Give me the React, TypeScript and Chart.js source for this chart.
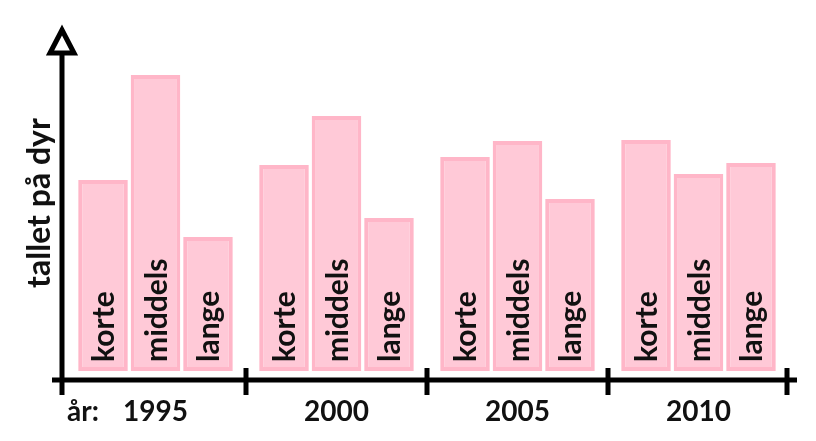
import { useEffect, useRef } from "react"
import Chart from "chart.js/auto"

const years = ["1995", "2000", "2005", "2010"]
const lengthNames = ["korte", "middels", "lange"]
const korte = [191, 206, 214, 231]
const middels = [296, 255, 230, 197]
const lange = [134, 153, 172, 208]
const yMax = 300

const FONT = "Lato, 'Open Sans', sans-serif"

// draws axes, arrow, ticks, year labels and the words inside the bars
const drawingPlugin = {
  id: "axesAndLabels",
  afterDatasetsDraw(chart: any) {
    const { ctx, chartArea } = chart
    const x = chart.scales.x
    const { bottom } = chartArea
    const axisX = chartArea.left - 3
    const axisY = bottom + 9
    const step = x.getPixelForValue(1) - x.getPixelForValue(0)

    ctx.save()
    ctx.strokeStyle = "#000"
    ctx.lineWidth = 5
    ctx.lineCap = "butt"

    // y axis
    ctx.beginPath()
    ctx.moveTo(axisX, axisY + 15)
    ctx.lineTo(axisX, 54)
    ctx.stroke()

    // arrow head
    ctx.beginPath()
    ctx.moveTo(axisX, 30)
    ctx.lineTo(axisX + 12, 53)
    ctx.lineTo(axisX - 12, 53)
    ctx.closePath()
    ctx.fillStyle = "#fff"
    ctx.fill()
    ctx.lineJoin = "miter"
    ctx.stroke()

    // x axis
    ctx.beginPath()
    ctx.moveTo(axisX - 10, axisY)
    ctx.lineTo(x.getPixelForValue(years.length - 1) + step / 2 + 8, axisY)
    ctx.stroke()

    // ticks between the years
    for (let i = 0; i < years.length; i++) {
      const tx = x.getPixelForValue(i) + step / 2 - (i === years.length - 1 ? 2 : 0)
      ctx.beginPath()
      ctx.moveTo(tx, axisY - 12)
      ctx.lineTo(tx, axisY + 15)
      ctx.stroke()
    }

    // year labels
    ctx.fillStyle = "#111"
    ctx.font = `bold 28px ${FONT}`
    ctx.textAlign = "center"
    ctx.textBaseline = "alphabetic"
    years.forEach((yr, i) => {
      ctx.fillText(yr, x.getPixelForValue(i), axisY + 41)
    })
    ctx.textAlign = "left"
    ctx.fillText("år:", axisX + 5, axisY + 41)

    // y axis title
    ctx.save()
    ctx.translate(axisX - 12, 203)
    ctx.rotate(-Math.PI / 2)
    ctx.textAlign = "center"
    ctx.font = `bold 32px ${FONT}`
    ctx.fillText("tallet på dyr", 0, 0)
    ctx.restore()

    // words inside bars
    ctx.font = `bold 30px ${FONT}`
    chart.data.datasets.forEach((ds: any, di: number) => {
      const meta = chart.getDatasetMeta(di)
      meta.data.forEach((bar: any) => {
        ctx.save()
        ctx.translate(bar.x + 11, bottom - 9)
        ctx.rotate(-Math.PI / 2)
        ctx.textAlign = "left"
        ctx.fillText(ds.label, 0, 0)
        ctx.restore()
      })
    })

    ctx.restore()
  },
}

export default function App() {
  const chartRef = useRef<HTMLCanvasElement>(null)
  const chartInstance = useRef<Chart | null>(null)

  useEffect(() => {
    if (!chartRef.current) return
    if (chartInstance.current) chartInstance.current.destroy()
    const ctx = chartRef.current.getContext("2d")
    if (!ctx) return

    const series = [korte, middels, lange]

    chartInstance.current = new Chart(ctx, {
      type: "bar",
      data: {
        labels: years,
        datasets: lengthNames.map((name, i) => ({
          label: name,
          data: series[i],
          backgroundColor: "#ffc9d7",
          borderColor: "#ffb6c8",
          borderWidth: 4,
          borderSkipped: false,
          categoryPercentage: 0.87,
          barPercentage: 0.945,
        })),
      },
      options: {
        animation: false,
        responsive: true,
        maintainAspectRatio: false,
        layout: { padding: { left: 65, right: 27, top: 71, bottom: 70 } },
        scales: {
          x: { display: false },
          y: { display: false, min: 0, max: yMax },
        },
        plugins: {
          legend: { display: false },
          tooltip: { enabled: false },
        },
      },
      plugins: [drawingPlugin],
    })

    return () => {
      if (chartInstance.current) {
        chartInstance.current.destroy()
        chartInstance.current = null
      }
    }
  }, [])

  return (
    <div style={{ position: "fixed", left: 0, top: 0, width: 816, height: 441, background: "#fff" }}>
      <canvas ref={chartRef} />
    </div>
  )
}
